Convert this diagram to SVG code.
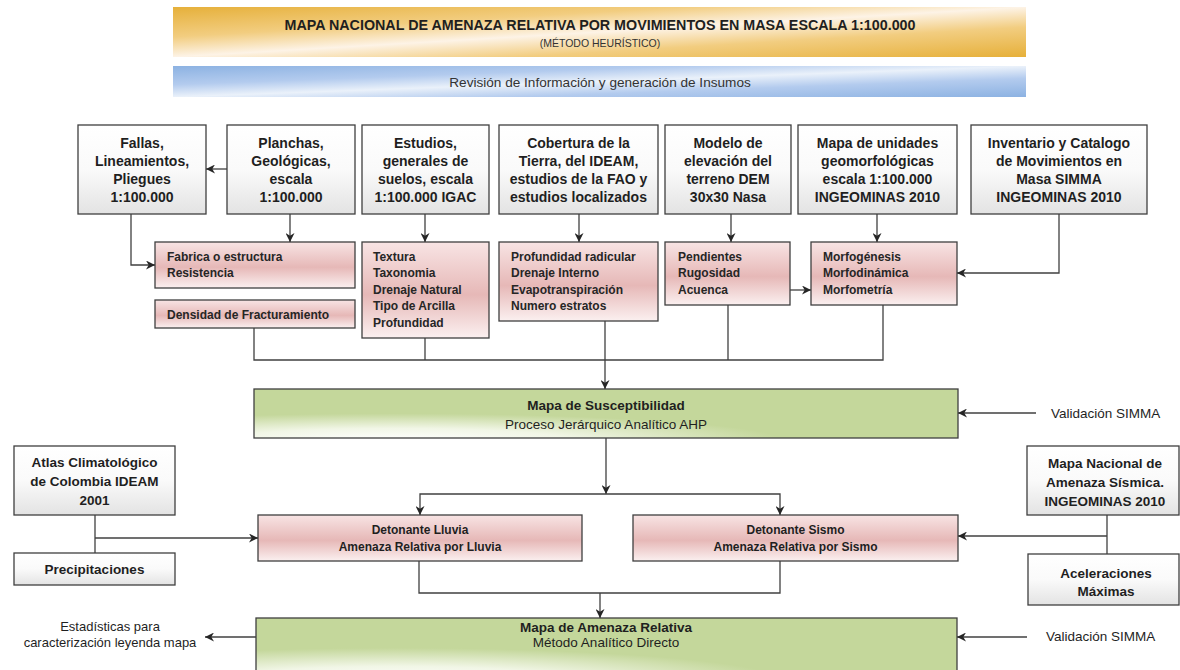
<svg xmlns="http://www.w3.org/2000/svg" width="1180" height="670" viewBox="0 0 1180 670">
<defs>
  <linearGradient id="gOrange" x1="0" y1="0" x2="0.5" y2="0.5" spreadMethod="reflect">
    <stop offset="0" stop-color="#e6b03a"/>
    <stop offset="0.6" stop-color="#f2cd80"/>
    <stop offset="1" stop-color="#fdf3e6"/>
  </linearGradient>
  <linearGradient id="gBlue" x1="0" y1="0" x2="0.5" y2="0.5" spreadMethod="reflect">
    <stop offset="0" stop-color="#8cb2e2"/>
    <stop offset="0.6" stop-color="#b3cbee"/>
    <stop offset="1" stop-color="#eaf1fa"/>
  </linearGradient>
  <radialGradient id="gGreen" cx="0.2" cy="1.05" r="0.55">
    <stop offset="0" stop-color="#ffffff"/>
    <stop offset="0.45" stop-color="#f1f6e6"/>
    <stop offset="1" stop-color="#c4d79b"/>
  </radialGradient>
  <linearGradient id="gPink" x1="0" y1="0" x2="0" y2="1">
    <stop offset="0" stop-color="#f8e4e4"/>
    <stop offset="0.55" stop-color="#e6b8b7"/>
    <stop offset="1" stop-color="#fbf0f0"/>
  </linearGradient>
  <linearGradient id="gGray" x1="0" y1="0" x2="0" y2="1">
    <stop offset="0" stop-color="#ffffff"/>
    <stop offset="0.5" stop-color="#fafafa"/>
    <stop offset="1" stop-color="#e3e3e3"/>
  </linearGradient>
  <marker id="ah" viewBox="0 0 10 10" refX="10" refY="5" markerWidth="9" markerHeight="9" orient="auto" markerUnits="userSpaceOnUse">
    <path d="M0,0 L10,5 L0,10 L3,5 z" fill="#262626"/>
  </marker>
  <style>
    text { font-family: "Liberation Sans", Arial, sans-serif; fill: #1f1f1f; }
    .src { fill: url(#gGray); stroke: #3f3f3f; stroke-width: 1.3; }
    .pink { fill: url(#gPink); stroke: #3f3f3f; stroke-width: 1.3; }
    .green { fill: url(#gGreen); stroke: #3f3f3f; stroke-width: 1.3; }
    .tb { font-size: 14px; font-weight: bold; text-anchor: middle; }
    .pt { font-size: 12px; font-weight: bold; fill: #262626; }
    .mid { text-anchor: middle; }
    .b12 { font-size: 12px; font-weight: bold; text-anchor: middle; }
    .b135 { font-size: 13.5px; font-weight: bold; text-anchor: middle; }
    .r135 { font-size: 13.5px; }
    .con { fill: none; stroke: #404040; stroke-width: 1.3; }
    .arr { marker-end: url(#ah); }
  </style>
</defs>
<rect width="1180" height="670" fill="#ffffff"/>

<g id="header">
  <rect x="173" y="7" width="853" height="50" fill="url(#gOrange)"/>
  <text x="600" y="30" class="mid" style="font-size:14.3px;font-weight:bold">MAPA NACIONAL DE AMENAZA RELATIVA POR MOVIMIENTOS EN MASA ESCALA 1:100.000</text>
  <text x="600" y="47" class="mid" style="font-size:10.5px;fill:#333">(MÉTODO HEURÍSTICO)</text>
</g>
<g id="revision">
  <rect x="173" y="66" width="853" height="31" fill="url(#gBlue)"/>
  <text x="600" y="86.5" class="mid" style="font-size:13.6px;fill:#333">Revisión de Información y generación de Insumos</text>
</g>

<g id="fallas">
  <rect class="src" x="78" y="125" width="128" height="89"/>
  <text class="tb"><tspan x="142" y="148">Fallas,</tspan><tspan x="142" y="166">Lineamientos,</tspan><tspan x="142" y="184">Pliegues</tspan><tspan x="142" y="202">1:100.000</tspan></text>
</g>
<g id="planchas">
  <rect class="src" x="227" y="125" width="128" height="89"/>
  <text class="tb"><tspan x="291" y="148">Planchas,</tspan><tspan x="291" y="166">Geológicas,</tspan><tspan x="291" y="184">escala</tspan><tspan x="291" y="202">1:100.000</tspan></text>
</g>
<g id="estudios">
  <rect class="src" x="362" y="125" width="127" height="89"/>
  <text class="tb"><tspan x="425.5" y="148">Estudios,</tspan><tspan x="425.5" y="166">generales de</tspan><tspan x="425.5" y="184">suelos, escala</tspan><tspan x="425.5" y="202">1:100.000 IGAC</tspan></text>
</g>
<g id="cobertura">
  <rect class="src" x="499" y="125" width="159" height="89"/>
  <text class="tb"><tspan x="578.5" y="148">Cobertura de la</tspan><tspan x="578.5" y="166">Tierra, del IDEAM,</tspan><tspan x="578.5" y="184">estudios de la FAO y</tspan><tspan x="578.5" y="202">estudios localizados</tspan></text>
</g>
<g id="modelo">
  <rect class="src" x="665" y="125" width="126" height="89"/>
  <text class="tb"><tspan x="728" y="148">Modelo de</tspan><tspan x="728" y="166">elevación del</tspan><tspan x="728" y="184">terreno DEM</tspan><tspan x="728" y="202">30x30 Nasa</tspan></text>
</g>
<g id="mapa-unidades">
  <rect class="src" x="798" y="125" width="159" height="89"/>
  <text class="tb"><tspan x="877.5" y="148">Mapa de unidades</tspan><tspan x="877.5" y="166">geomorfológicas</tspan><tspan x="877.5" y="184">escala 1:100.000</tspan><tspan x="877.5" y="202">INGEOMINAS 2010</tspan></text>
</g>
<g id="inventario">
  <rect class="src" x="971" y="125" width="176" height="89"/>
  <text class="tb"><tspan x="1059" y="148">Inventario y Catalogo</tspan><tspan x="1059" y="166">de Movimientos en</tspan><tspan x="1059" y="184">Masa SIMMA</tspan><tspan x="1059" y="202">INGEOMINAS 2010</tspan></text>
</g>

<g id="fabrica">
  <rect class="pink" x="155" y="242" width="200" height="46"/>
  <text class="pt"><tspan x="167" y="260.5">Fabrica o estructura</tspan><tspan x="167" y="277">Resistencia</tspan></text>
</g>
<g id="densidad">
  <rect class="pink" x="155" y="300" width="200" height="28"/>
  <text class="pt" x="167" y="318.5">Densidad de Fracturamiento</text>
</g>
<g id="textura">
  <rect class="pink" x="362" y="242" width="127" height="96"/>
  <text class="pt"><tspan x="373" y="260.5">Textura</tspan><tspan x="373" y="277">Taxonomia</tspan><tspan x="373" y="293.5">Drenaje Natural</tspan><tspan x="373" y="310">Tipo de Arcilla</tspan><tspan x="373" y="326.5">Profundidad</tspan></text>
</g>
<g id="profundidad">
  <rect class="pink" x="499" y="242" width="159" height="79"/>
  <text class="pt"><tspan x="511" y="260.5">Profundidad radicular</tspan><tspan x="511" y="277">Drenaje Interno</tspan><tspan x="511" y="293.5">Evapotranspiración</tspan><tspan x="511" y="310">Numero estratos</tspan></text>
</g>
<g id="pendientes">
  <rect class="pink" x="665" y="242" width="125" height="63"/>
  <text class="pt"><tspan x="678" y="260.5">Pendientes</tspan><tspan x="678" y="277">Rugosidad</tspan><tspan x="678" y="293.5">Acuenca</tspan></text>
</g>
<g id="morfo">
  <rect class="pink" x="811" y="242" width="146" height="63"/>
  <text class="pt"><tspan x="823" y="260.5">Morfogénesis</tspan><tspan x="823" y="277">Morfodinámica</tspan><tspan x="823" y="293.5">Morfometría</tspan></text>
</g>

<g id="susceptibilidad">
  <rect class="green" x="254" y="389" width="704" height="49"/>
  <text class="b135" x="606" y="410">Mapa de Susceptibilidad</text>
  <text class="r135 mid" x="606" y="429">Proceso Jerárquico Analítico AHP</text>
</g>
<g id="validacion1">
  <text class="r135" x="1051" y="418">Validación SIMMA</text>
</g>

<g id="atlas">
  <rect class="src" x="14" y="446" width="161" height="69"/>
  <text class="b135"><tspan x="94.5" y="467">Atlas Climatológico</tspan><tspan x="94.5" y="486">de Colombia IDEAM</tspan><tspan x="94.5" y="505">2001</tspan></text>
</g>
<g id="precipitaciones">
  <rect class="src" x="14" y="553" width="161" height="32"/>
  <text class="b135" x="94.5" y="573.5">Precipitaciones</text>
</g>
<g id="lluvia">
  <rect class="pink" x="258" y="515" width="324" height="46"/>
  <text class="b12"><tspan x="420" y="533.5">Detonante Lluvia</tspan><tspan x="420" y="550.5">Amenaza Relativa por Lluvia</tspan></text>
</g>
<g id="sismo">
  <rect class="pink" x="633" y="515" width="325" height="46"/>
  <text class="b12"><tspan x="795.5" y="533.5">Detonante Sismo</tspan><tspan x="795.5" y="550.5">Amenaza Relativa por Sismo</tspan></text>
</g>
<g id="mapa-sismica">
  <rect class="src" x="1027" y="446" width="152" height="69"/>
  <text class="b135"><tspan x="1105" y="468">Mapa Nacional de</tspan><tspan x="1105" y="487">Amenaza Sísmica.</tspan><tspan x="1105" y="506">INGEOMINAS 2010</tspan></text>
</g>
<g id="aceleraciones">
  <rect class="src" x="1028" y="554" width="151" height="51"/>
  <text class="b135"><tspan x="1106" y="577.5">Aceleraciones</tspan><tspan x="1106" y="596">Máximas</tspan></text>
</g>

<g id="amenaza-relativa">
  <rect class="green" x="256" y="618" width="701" height="60"/>
  <text class="b135" x="606" y="632">Mapa de Amenaza Relativa</text>
  <text class="r135 mid" x="606" y="647">Método Analítico Directo</text>
</g>
<g id="estadisticas">
  <text class="mid" style="font-size:13px"><tspan x="110" y="631">Estadísticas para</tspan><tspan x="110" y="647">caracterización leyenda mapa</tspan></text>
</g>
<g id="validacion2">
  <text class="r135" x="1046" y="641">Validación SIMMA</text>
</g>

<g id="connectors">
  <path class="con arr" d="M227,169 H206"/>
  <path class="con arr" d="M131,214 V265 H155"/>
  <path class="con arr" d="M290,214 V242"/>
  <path class="con arr" d="M425,214 V242"/>
  <path class="con arr" d="M579,214 V242"/>
  <path class="con arr" d="M731,214 V242"/>
  <path class="con arr" d="M877,214 V242"/>
  <path class="con arr" d="M1059,214 V273 H957"/>
  <path class="con arr" d="M790,290 H811"/>
  <path class="con" d="M254,328 V360 H883 V305"/>
  <path class="con" d="M425,338 V360"/>
  <path class="con" d="M728,305 V360"/>
  <path class="con arr" d="M605,321 V389"/>
  <path class="con arr" d="M1036,413 H958"/>
  <path class="con arr" d="M606,438 V494"/>
  <path class="con arr" d="M606,494 H420 V515"/>
  <path class="con arr" d="M606,494 H780 V515"/>
  <path class="con" d="M95,515 V553"/>
  <path class="con arr" d="M95,538 H258"/>
  <path class="con" d="M1107,515 V554"/>
  <path class="con arr" d="M1107,536 H958"/>
  <path class="con" d="M419,561 V593 H780 V561"/>
  <path class="con arr" d="M600,593 V618"/>
  <path class="con arr" d="M256,637 H205"/>
  <path class="con arr" d="M1027,637 H957"/>
</g>
</svg>
